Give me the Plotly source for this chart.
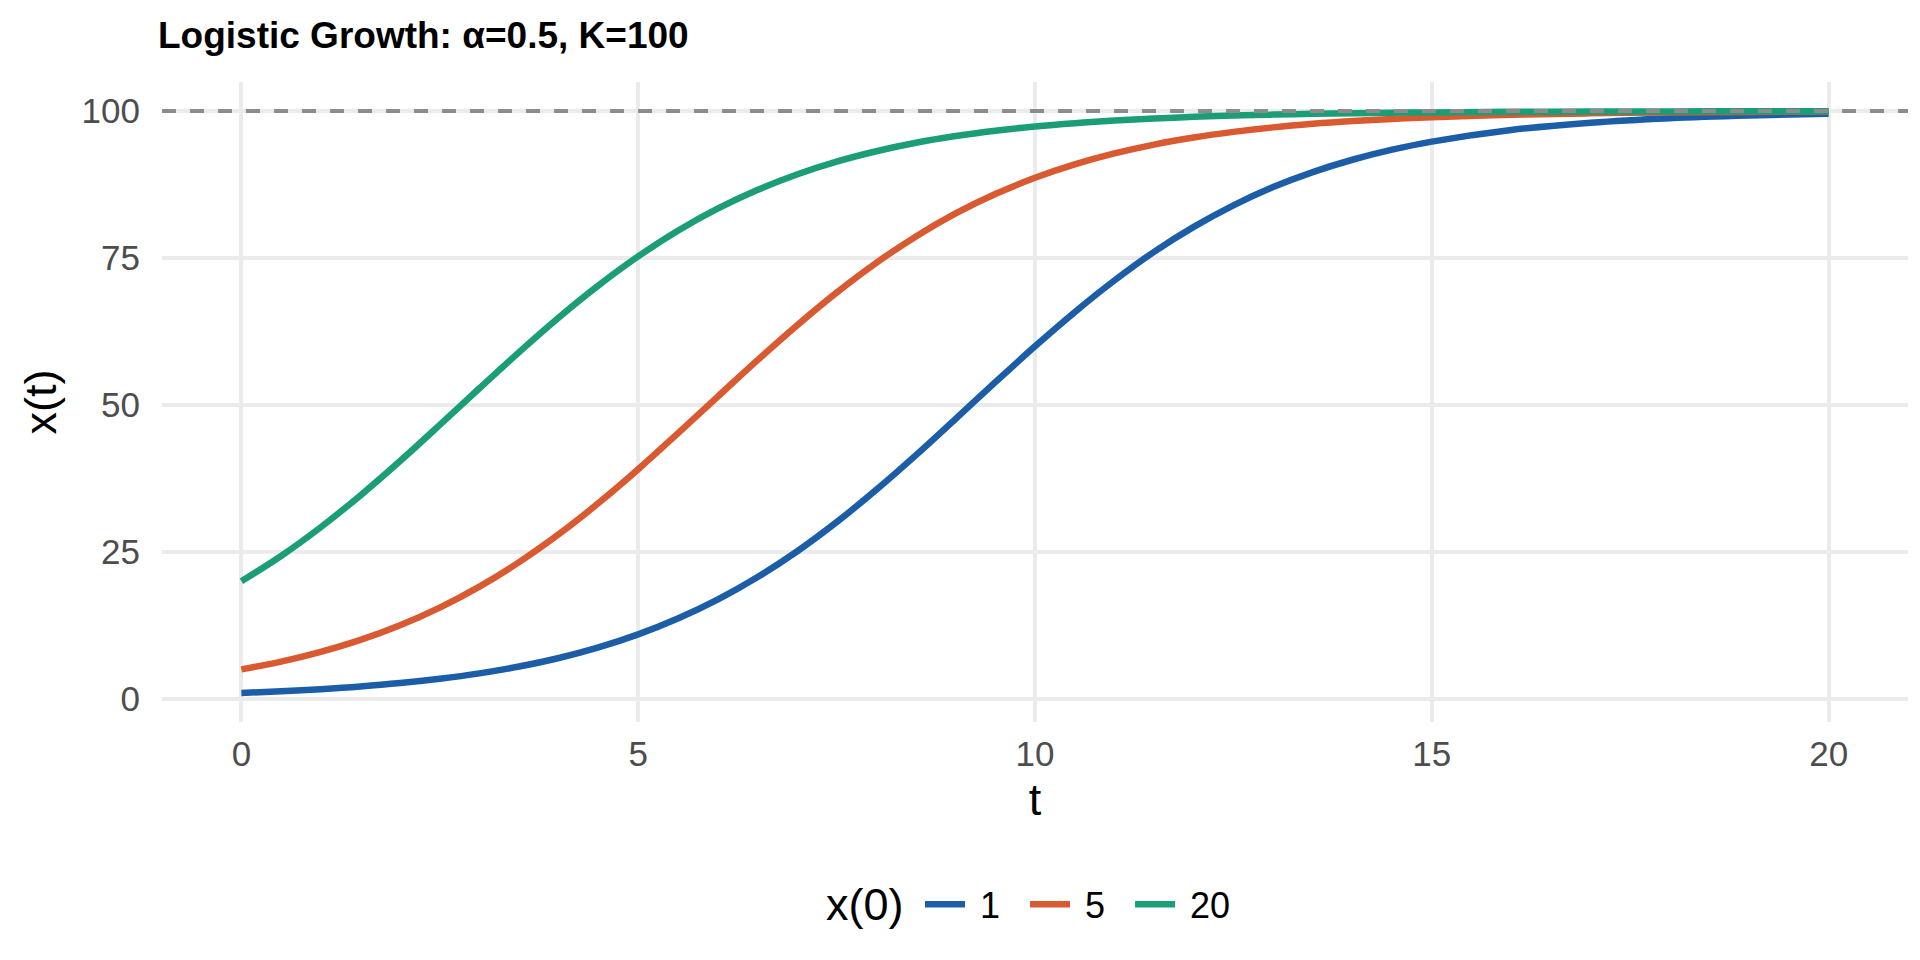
import plotly.graph_objects as go

# values
t = [0, 0.5, 1, 1.5, 2, 2.5, 3, 3.5, 4, 4.5, 5, 5.5, 6, 6.5, 7, 7.5, 8, 8.5, 9, 9.5,
     10, 10.5, 11, 11.5, 12, 12.5, 13, 13.5, 14, 14.5, 15, 16, 17, 18, 19, 20]
x0_1 = [1.0, 1.28, 1.64, 2.09, 2.67, 3.41, 4.33, 5.49, 6.94, 8.75, 10.96, 13.65,
        16.86, 20.67, 25.06, 30.05, 35.56, 41.46, 47.64, 53.88, 59.98, 65.79,
        71.17, 76.05, 80.29, 83.96, 87.07, 89.62, 91.72, 93.43, 94.81, 96.79,
        98.03, 98.80, 99.26, 99.55]
x0_5 = [5.0, 6.33, 7.99, 10.02, 12.52, 15.52, 19.09, 23.25, 28.00, 33.30, 39.06,
        45.17, 51.39, 57.58, 63.53, 69.11, 74.18, 78.68, 82.58, 85.88, 88.65,
        90.93, 92.79, 94.30, 95.50, 96.46, 97.23, 97.83, 98.30, 98.67, 98.96,
        99.37, 99.62, 99.77, 99.86, 99.91]
x0_20 = [20.0, 24.30, 29.19, 34.61, 40.46, 46.60, 52.84, 58.99, 64.88, 70.34, 75.28,
         79.64, 83.39, 86.57, 89.22, 91.40, 93.17, 94.61, 95.75, 96.66, 97.38,
         97.94, 98.39, 98.74, 99.02, 99.23, 99.40, 99.53, 99.64, 99.72, 99.78,
         99.87, 99.92, 99.95, 99.97, 99.98]

series = [("1", x0_1, "#1B5EA7"), ("5", x0_5, "#D95A30"), ("20", x0_20, "#1B9E77")]
K = 100

FONT = "Liberation Sans"
NB = "\u00a0"

fig = go.Figure()
for name, vals, col in series:
    fig.add_trace(go.Scatter(
        x=t, y=vals, name=NB + name + NB * 2, mode="lines",
        line=dict(color=col, width=6.5, shape="spline", smoothing=1),
    ))

fig.add_hline(y=K, line=dict(color="#8C8C8C", width=4, dash="14px,14px"), layer="above")

axis_common = dict(
    showgrid=True, gridcolor="#EBEBEB", gridwidth=4,
    zeroline=False, showline=False,
    ticks="outside", tickcolor="rgba(0,0,0,0)",
    tickfont=dict(family=FONT, size=35, color="#4D4D4D"),
)

# legend title drawn as a separate label so it sits level with the keys
legend_y = -0.285
fig.add_annotation(
    text="x(0)", xref="paper", yref="paper", x=(898 - 154) / 1746, y=legend_y,
    xanchor="right", yanchor="middle", showarrow=False,
    font=dict(family=FONT, size=45, color="black"),
)

fig.update_layout(
    width=1920, height=960,
    paper_bgcolor="white", plot_bgcolor="white",
    margin=dict(l=154, r=20, t=74, b=246),
    title=dict(
        text="Logistic Growth: α=0.5, K=100",
        font=dict(family=FONT, size=37, color="black", weight="bold"),
        x=150 / 1920, xref="container", xanchor="left",
        y=1 - 27 / 960, yref="container", yanchor="middle",
    ),
    xaxis=dict(
        **axis_common, ticklen=1, range=[-1, 21], tickmode="array", tickvals=[0, 5, 10, 15, 20],
        title=dict(text="t", font=dict(family=FONT, size=45, color="black"), standoff=11),
    ),
    yaxis=dict(
        **axis_common, ticklen=14, range=[-3.95, 104.95], tickmode="array",
        tickvals=[0, 25, 50, 75, 100],
        title=dict(text="x(t)", font=dict(family=FONT, size=45, color="black"), standoff=10),
    ),
    legend=dict(
        orientation="h", x=(912 - 154) / 1746, xanchor="left", y=legend_y, yanchor="middle",
        font=dict(family=FONT, size=36, color="black"),
        itemwidth=40,
    ),
    showlegend=True,
)

fig.write_html("out.html")
